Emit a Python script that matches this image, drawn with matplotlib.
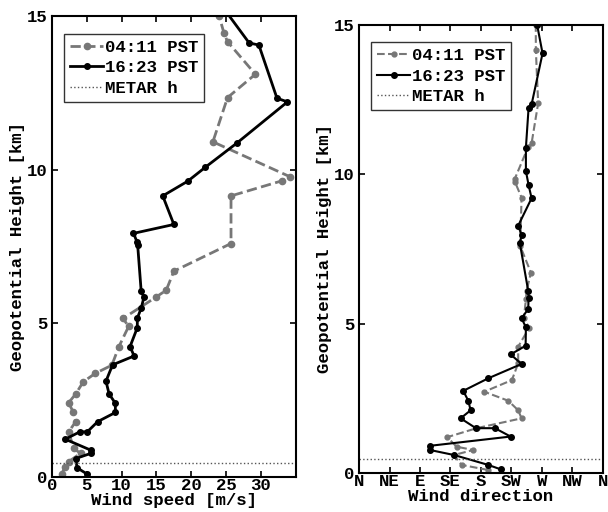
import matplotlib
matplotlib.use("Agg")
import matplotlib.pyplot as plt
import numpy as np

plt.rcParams['font.family'] = ['Liberation Mono', 'DejaVu Sans Mono']
plt.rcParams['font.weight'] = 'bold'
plt.rcParams['axes.labelweight'] = 'bold'
plt.rcParams['font.size'] = 12.5

# wind speed profiles [m/s] vs height [km]
speed_am = [1.4, 1.9, 2.4, 4.1, 3.1, 2.4, 3.4, 3.0, 2.4, 3.4, 4.5, 6.2, 8.6, 9.6, 11.0, 10.2,
            14.9, 16.4, 17.5, 25.7, 25.7, 33.0, 34.2, 23.1, 25.2, 29.2, 25.2, 24.7, 24.0]
height_speed_am = [0.1, 0.34, 0.5, 0.77, 0.93, 1.47, 1.8, 2.13, 2.42, 2.7, 3.1, 3.37, 3.64, 4.24, 4.9, 5.16,
                   5.85, 6.08, 6.7, 7.6, 9.15, 9.64, 9.77, 10.91, 12.35, 13.11, 14.17, 14.44, 15.0]

speed_pm = [5.0, 3.6, 3.4, 5.6, 5.6, 1.9, 4.0, 5.07, 6.55, 9.1, 9.1, 8.2, 7.75, 8.7, 11.8, 11.2,
            12.25, 12.25, 12.8, 13.2, 12.8, 12.3, 12.2, 11.7, 17.5, 15.9, 19.5, 22.0, 26.6,
            33.8, 32.3, 29.7, 28.3, 24.5]
height_speed_pm = [0.1, 0.3, 0.6, 0.77, 0.87, 1.23, 1.47, 1.47, 1.8, 2.1, 2.4, 2.7, 3.12, 3.65, 3.94, 4.24,
                   4.86, 5.17, 5.49, 5.85, 6.06, 7.55, 7.66, 7.93, 8.22, 9.15, 9.63, 10.08, 10.88,
                   12.21, 12.33, 14.06, 14.13, 15.3]

# wind direction profiles [deg] vs height [km]
dir_am = [190.8, 151.5, 140.0, 168.6, 144.1, 130.3, 173.6, 240.0, 235.0, 220.3, 184.9, 225.7, 235.0,
          235.0, 251.3, 243.4, 246.4, 247.4, 253.8, 238.0, 240.0, 230.2, 230.2, 249.8, 254.8,
          264.5, 261.1, 261.0]
height_dir_am = [0.1, 0.27, 0.6, 0.77, 0.88, 1.2, 1.5, 1.83, 2.1, 2.42, 2.72, 3.11, 3.67,
                 4.23, 4.86, 5.18, 5.81, 6.1, 6.71, 7.6, 9.22, 9.75, 9.86, 10.92, 11.04,
                 12.38, 14.16, 15.0]

dir_pm = [209.5, 190.8, 140.6, 104.8, 104.8, 223.8, 200.7, 172.6, 150.0, 164.8, 161.3, 153.9, 190.8,
          240.0, 223.8, 246.0, 246.4, 240.0, 249.8, 250.4, 249.8, 237.5, 240.0, 235.0, 254.8,
          250.4, 246.4, 246.4, 250.4, 254.8, 271.0, 263.0]
height_dir_pm = [0.12, 0.27, 0.6, 0.77, 0.91, 1.22, 1.5, 1.5, 1.83, 2.1, 2.42, 2.75, 3.17,
                 3.65, 3.97, 4.26, 4.88, 5.18, 5.49, 5.85, 6.1, 7.69, 7.97, 8.28, 9.2,
                 9.64, 10.11, 10.89, 12.23, 12.34, 14.05, 15.0]

metar_h = 0.47
labels = ['04:11 PST', '16:23 PST', 'METAR h']
dir_ticks = ['N', 'NE', 'E', 'SE', 'S', 'SW', 'W', 'NW', 'N']

gray = '#777777'

fig = plt.figure(figsize=(6.08, 5.12), dpi=100)
ax1 = fig.add_axes([0.0855, 0.0684, 0.401, 0.900])
ax2 = fig.add_axes([0.5905, 0.0762, 0.401, 0.875])


def style_axis(ax):
    ax.tick_params(direction='in', top=True, right=True, length=4, width=1.2)
    ax.tick_params(axis='x', pad=1)
    ax.tick_params(axis='y', pad=3.5)
    for s in ax.spines.values():
        s.set_linewidth(1.5)
    ax.set_ylim(0, 15)
    ax.set_yticks([0, 5, 10, 15])
    ax.set_ylabel('Geopotential Height [km]', labelpad=1)


# left: wind speed
ax1.plot(speed_am, height_speed_am, '--o', color=gray, lw=2, ms=4.5, label=labels[0])
ax1.plot(speed_pm, height_speed_pm, '-o', color='black', lw=2, ms=4, label=labels[1])
ax1.axhline(metar_h, color='#555555', ls=':', lw=1, label=labels[2])
ax1.set_xlim(0, 35)
ax1.set_xticks([0, 5, 10, 15, 20, 25, 30])
ax1.set_xlabel('Wind speed [m/s]', labelpad=0)
style_axis(ax1)

# right: wind direction
ax2.plot(dir_am, height_dir_am, '--o', color=gray, lw=1.5, ms=3.5, label=labels[0])
ax2.plot(dir_pm, height_dir_pm, '-o', color='black', lw=1.5, ms=4, label=labels[1])
ax2.axhline(metar_h, color='#555555', ls=':', lw=1, label=labels[2])
ax2.set_xlim(0, 360)
ax2.set_xticks(np.arange(0, 361, 45))
ax2.set_xticklabels(dir_ticks)
ax2.set_xlabel('Wind direction', labelpad=0)
style_axis(ax2)

for ax in (ax1, ax2):
    leg = ax.legend(loc='upper left', bbox_to_anchor=(0.05, 0.962), fancybox=False,
                    handlelength=1.9, handletextpad=0.1, borderpad=0.35, labelspacing=0.3,
                    borderaxespad=0.0)
    leg.get_frame().set_edgecolor('black')
    leg.get_frame().set_linewidth(1.0)

fig.savefig('out.png', dpi=100)
